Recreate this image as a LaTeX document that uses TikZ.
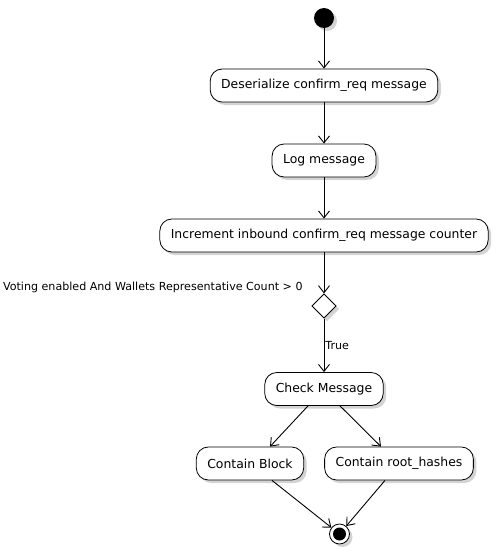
\documentclass[tikz,border=0pt]{standalone}
\usepackage{fontspec}
\setmainfont{DejaVu Sans}
\usetikzlibrary{arrows.meta,shadows}

\tikzset{
  act/.style={draw, thick, fill=white, rounded corners=12pt, minimum height=33pt,
    inner xsep=11pt, font=\fontsize{12.4}{14}\selectfont,
    drop shadow={opacity=0.35, shadow xshift=3pt, shadow yshift=-3pt}},
  flow/.style={draw, -{Straight Barb[length=7pt, width=11pt]}}
}

\begin{document}
\begin{tikzpicture}[x=1pt, y=-1pt, line width=0.9pt]
\useasboundingbox (0,0) rectangle (498,552);
				\path (324, 18) node[circle, fill=black, minimum size=20pt, inner sep=0pt,
				    drop shadow={opacity=0.35, shadow xshift=3pt, shadow yshift=-3pt}] (n1){}
				(324, 85.5) node[act] (n2){Deserialize confirm\_req message}
				(324, 160.5) node[act] (n3){Log message}
				(324, 235.5) node[act] (n4){Increment inbound confirm\_req message counter}
				(324, 306) node[draw, thick, fill=white, shape=rectangle, rotate=45, minimum size=17pt, inner sep=0pt,
				    drop shadow={opacity=0.35, shadow xshift=3pt, shadow yshift=-3pt}] (n5){}
				(324, 389) node[act] (n6){Check Message}
				(250, 463.5) node[act] (n7){Contain Block}
				(399, 463.5) node[act] (n8){Contain root\_hashes}
				(339.5, 534) node[circle, draw, thick, fill=white, minimum size=20pt, inner sep=0pt,
				    drop shadow={opacity=0.35, shadow xshift=3pt, shadow yshift=-3pt}] (n9){};
				\fill (n9) circle (6.5pt);
				\node[anchor=east, inner sep=1pt, font=\fontsize{11.1}{13}\selectfont] (c1) at (304, 287)
				  {Voting enabled And Wallets Representative Count > 0};

				\draw[flow] (n1) -- (n2);
				\draw[flow] (n2) -- (n3);
				\draw[flow] (n3) -- (n4);
				\draw[flow] (n4) -- (n5.north east);
				\draw[flow] (n5.south west) -- node[anchor=west, inner sep=1pt, font=\fontsize{11.1}{13}\selectfont] {True} (n6);
				\draw[flow] (n6.south) ++(-16,0) coordinate (o1) (o1) -- (n7.north -| 270,0) ;
				\draw[flow] (n6.south) ++(16,0) coordinate (o2) (o2) -- (n8.north -| 381,0);
				\draw[flow] (n7.south) ++(22,0) coordinate (o3) (o3) -- (n9);
				\draw[flow] (n8.south) ++(-14,0) coordinate (o4) (o4) -- (n9);
\end{tikzpicture}
\end{document}
